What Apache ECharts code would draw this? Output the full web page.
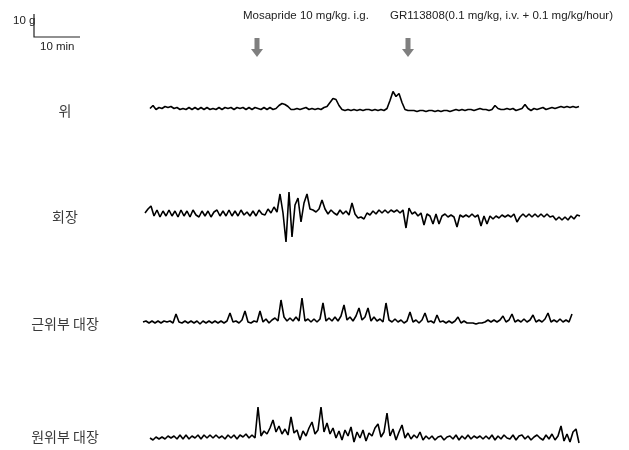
<!DOCTYPE html>
<html><head><meta charset="utf-8">
<script src="https://cdn.jsdelivr.net/npm/echarts@6/dist/echarts.min.js"></script>
<style>html,body{margin:0;padding:0;background:#fff}#c{width:629px;height:450px}</style>
</head><body><div id="c"></div>
<script>
// Trace labels
const traceNames = ['위', '회장', '근위부 대장', '원위부 대장'];
// Drug annotations
const annotations = ['Mosapride 10 mg/kg. i.g.', 'GR113808(0.1 mg/kg, i.v. + 0.1 mg/kg/hour)'];
const scaleLabels = ['10 g', '10 min'];

// Contraction force (g, relative to baseline), sampled uniformly along time
const stomach = [
 0,1.5,-0.5,0.5,0,1,0.5,1,0,0.5,
 -0.5,0,-0.5,0.5,-0.5,0.5,-0.5,0.5,-0.5,0.5,
 -0.5,0,-0.5,0.5,-0.5,0.5,0,0.5,-0.5,0.5,
 0,0.5,-0.5,0.5,-0.5,0.5,0,-0.5,0.5,-0.5,
 0.5,-0.5,0,1.5,2.5,2,1,-0.5,-0.5,0,
 -0.5,0,0.5,-0.5,0,-0.5,0,-0.5,0.5,1,
 3,5,4.5,1.5,-0.5,-1,-0.5,-1,-0.5,-1,
 -0.5,-1,-0.5,-0.5,-1,-0.5,-1,-0.5,-1,0,
 4,8.5,6,7.5,3,-0.5,-1,-1,-1,-1.5,
 -1,-1,-1.5,-1,-1,-1.5,-1,-1.5,-1,-1,
 -1.5,-1,-0.5,-1,-0.5,-1,-0.5,-0.5,-1,-0.5,
 0,-0.5,-0.5,-1,-0.5,1.5,0,-0.5,-0.5,0,
 -0.5,0,-1,-0.5,0,2,0,-1,0,-0.5,
 0,0.5,-0.5,0,0.5,0,0.5,1,0.5,1,
 0.5,1,0.5,1
];
const ileum = [
 0,2,3.5,-1.5,1.5,-2,1,-1.5,1.5,-1.5,
 1,-2,1.5,-1.5,1,-2,1.5,-1,-2,1,
 -1.5,1,-2,0.5,1.5,-1.5,1,-1.5,1.5,-1.5,
 1,-1.5,1.5,-1,0.5,-1.5,1,-1.5,1.5,-0.5,
 -1,2,0,3,0.5,9.5,0,-14.5,10.5,-12,
 4,7.5,-4.5,5,9.5,2,1.5,0.5,2,6.5,
 2,-0.5,1.5,0,-1,1.5,-0.5,1,-1,5,
 -0.5,-2.5,-2,-3,0,-1,1,-0.5,1.5,0,
 1.5,0,1.5,0.5,1.5,0,1.5,-7.5,2.5,-0.5,
 0.5,-1.5,0,-6,-0.5,-1.5,-5.5,-0.5,-5.5,-1.5,
 -0.5,-2,-1,-2,-7,-1,-2,-1,-2,-0.5,
 -2,-1,-6.5,-1.5,-5.5,-1.5,-3,-1.5,-2.5,-1,
 -2,-1,-2,-0.5,-4.5,-2,-0.5,-2,-0.5,-2,
 -0.5,-2,-0.5,-2,-0.5,-2,-1.5,-3.5,-2,-3.5,
 -2,-3.5,-1.5,-3,-1,-1.5
];
const proximalColon = [
 0,0.5,-0.5,0.5,-0.5,0.5,-0.5,0.5,0,0.5,
 -0.5,4,0,-0.5,0.5,-0.5,0.5,-0.5,0.5,-1,
 0.5,-0.5,0.5,-0.5,0.5,-0.5,0.5,-0.5,0.5,4.5,
 0,0.5,-0.5,1,5.5,0,-0.5,0.5,0,5.5,
 0,1.5,-0.5,1,2,0.5,11,2.5,0.5,2,
 0.5,2.5,0.5,12,0.5,1.5,0,1.5,0,1.5,
 9.5,0.5,2,0.5,2.5,0.5,3,8.5,1,2.5,
 0.5,3,7,1,2.5,7,0.5,2.5,0.5,1.5,
 0,9.5,1,0,1.5,0,1,-0.5,0.5,5,
 0,1,-0.5,1,4.5,0,0.5,-0.5,3.5,0,
 0.5,-0.5,0.5,-0.5,0.5,2.5,-0.5,0.5,-0.5,-0.5,
 -0.5,-1,-0.5,-0.5,0,1,0,1,0,1,
 3,0,1,4,0,1,0,1.5,0,1,
 3.5,0,1,0,1.5,4.5,0,1,0,1.5,
 0,1,0,4
];
const distalColon = [
 0,-1,0.5,-0.5,0.5,-0.5,1,0,1,-0.5,
 1.5,-0.5,1.5,-0.5,1,0,1.5,-0.5,1.5,0,
 1.5,0,1.5,0,1,-0.5,1.5,0,1.5,-0.5,
 1.5,0.5,2,0,1.5,0,15.5,1,3.5,2,
 5,9,3,6,2,4.5,1.5,10.5,2.5,4,
 -1,3.5,1,5,8,2,4,15.5,3,7.5,
 2,5,0,3.5,-1,4,1,5.5,-2,3,
 0,4,-1.5,2.5,1,5,7,0.5,3,12.5,
 1,4.5,-1,3,6.5,0,2.5,-0.5,1.5,0,
 3,-1,1,-0.5,1,-1,0.5,1,-1,0.5,
 1,-0.5,1.5,-1,1,-0.5,1.5,-0.5,1,0,
 1,-0.5,1,-0.5,1.5,-1,1,-0.5,1.5,0,
 -0.5,1.5,-1,1,1.5,-0.5,1,-1,0.5,1.5,
 0,-1,1.5,-0.5,2,-1,1,6,-1.5,2,
 -2,3,4.5,-2.5
];

const traces = [stomach, ileum, proximalColon, distalColon];
const layout = [
  {left:150, width:429, top:78.5, height:40, min:-5, max:15, labelY:111},
  {left:145, width:435, top:189, height:56, min:-16, max:12, labelY:217},
  {left:143, width:429, top:294, height:38, min:-5, max:14, labelY:324},
  {left:150, width:429, top:404, height:44, min:-5, max:17, labelY:437}
];

const grids = [], xAxes = [], yAxes = [], series = [], graphics = [];
traces.forEach((d, k) => {
  const L = layout[k];
  grids.push({left:L.left, width:L.width, top:L.top, height:L.height, containLabel:false});
  xAxes.push({type:'category', gridIndex:k, boundaryGap:false, show:false, data:d.map((_, i) => i)});
  yAxes.push({type:'value', gridIndex:k, min:L.min, max:L.max, show:false});
  series.push({type:'line', xAxisIndex:k, yAxisIndex:k, data:d, showSymbol:false, symbol:'none',
    lineStyle:{color:'#000', width:1.6}, silent:true});
  graphics.push({type:'text', x:65, y:L.labelY, style:{text:traceNames[k],
    fill:'#3a3a3a', font:'14px "Noto Sans CJK KR", sans-serif', textAlign:'center', textVerticalAlign:'middle'}});
});

const narrow = '11.5px "Liberation Sans Narrow", "Arial Narrow", sans-serif';
// Scale bar
graphics.push({type:'polyline', shape:{points:[[34,14],[34,37],[80,37]]}, style:{stroke:'#222', lineWidth:1.2, fill:null}});
graphics.push({type:'text', x:13, y:21, style:{text:scaleLabels[0], fill:'#222', font:narrow, textVerticalAlign:'middle'}});
graphics.push({type:'text', x:40, y:47, style:{text:scaleLabels[1], fill:'#222', font:narrow, textVerticalAlign:'middle'}});
// Annotations
graphics.push({type:'text', x:243, y:16, style:{text:annotations[0], fill:'#222', font:narrow, textVerticalAlign:'middle'}});
graphics.push({type:'text', x:390, y:16, style:{text:annotations[1], fill:'#222', font:narrow, textVerticalAlign:'middle'}});
function arrow(cx){
  return {type:'polygon', shape:{points:[[cx-2.5,38],[cx+2.5,38],[cx+2.5,49],[cx+6,49],[cx,57],[cx-6,49],[cx-2.5,49]]},
    style:{fill:'#7f7f7f'}};
}
graphics.push(arrow(257));
graphics.push(arrow(408));

const chart = echarts.init(document.getElementById('c'), null, {renderer:'canvas'});
chart.setOption({
  animation:false,
  backgroundColor:'#fff',
  grid:grids, xAxis:xAxes, yAxis:yAxes, series:series,
  graphic:graphics
});
</script>
</body></html>
